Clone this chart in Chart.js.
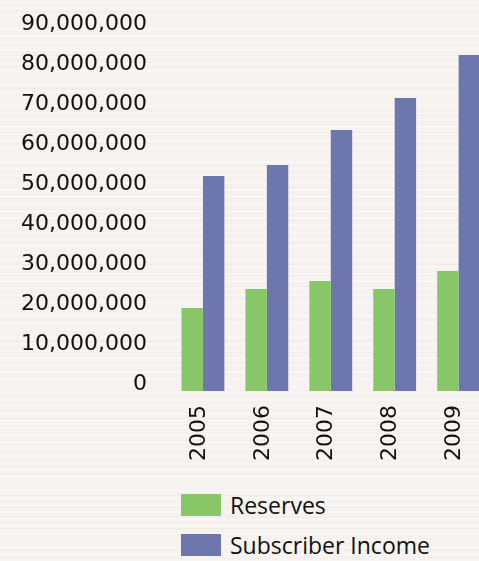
<!DOCTYPE html>
<html>
<head>
<meta charset="utf-8">
<script src="https://cdn.jsdelivr.net/npm/chart.js@4"></script>
<style>
  html, body { margin: 0; padding: 0; }
  body {
    width: 479px; height: 561px; overflow: hidden; position: relative;
    background-color: #f6f2ef;
    background-image:
      repeating-linear-gradient(180deg, rgba(255,255,255,0.35) 0px, rgba(255,255,255,0.35) 2px, rgba(0,0,0,0) 2px, rgba(0,0,0,0) 7px),
      repeating-linear-gradient(180deg, rgba(225,218,212,0.25) 0px, rgba(225,218,212,0.25) 1px, rgba(0,0,0,0) 1px, rgba(0,0,0,0) 11px);
  }
  #wrap { position: absolute; left: 0; top: 0; width: 499px; height: 470px; }
  #legend { position: absolute; left: 181px; top: 494px; font-family: "Open Sans", sans-serif; font-size: 23px; color: #111; }
  .item { display: flex; align-items: center; height: 22px; margin-bottom: 18px; }
  .box { width: 40px; height: 22px; margin-right: 9px; }
</style>
</head>
<body>
<div id="wrap"><canvas id="chart" width="499" height="470"></canvas></div>
<div id="legend"></div>
<script>
const years = ['2005', '2006', '2007', '2008', '2009'];
const reserves = [20750000, 25500000, 27500000, 25500000, 30000000];
const subscriberIncome = [53750000, 56500000, 65250000, 73250000, 84000000];
const yMax = 90000000;
const yStep = 10000000;

const green = '#88c668';
const blue = '#6e77ad';

const chart = new Chart(document.getElementById('chart').getContext('2d'), {
    type: 'bar',
    data: {
        labels: years,
        datasets: [
            { label: 'Reserves', data: reserves, backgroundColor: green },
            { label: 'Subscriber Income', data: subscriberIncome, backgroundColor: blue }
        ]
    },
    options: {
        responsive: false,
        animation: false,
        devicePixelRatio: 1,
        categoryPercentage: 0.67,
        barPercentage: 1.0,
        layout: { padding: { top: 31, left: 0, right: 0, bottom: 0 } },
        plugins: {
            legend: { display: false },
            tooltip: { enabled: false }
        },
        scales: {
            x: {
                grid: { display: false, drawTicks: false },
                border: { display: false },
                ticks: {
                    minRotation: 90,
                    maxRotation: 90,
                    padding: 14,
                    labelOffset: -4,
                    color: '#111',
                    font: { family: 'DejaVu Sans', size: 22 }
                },
                afterFit: s => { s.height = 79; }
            },
            y: {
                min: 0,
                max: yMax,
                grid: { display: false, drawTicks: false },
                border: { display: false },
                ticks: {
                    stepSize: yStep,
                    padding: 24,
                    labelOffset: -7,
                    color: '#111',
                    font: { family: 'DejaVu Sans', size: 22 },
                    callback: v => v.toLocaleString('en-US')
                },
                // tick padding would otherwise push the plot top down
                afterFit: s => { s.width = 171; s.paddingTop = 0; s.paddingBottom = 0; }
            }
        }
    }
});

// legend built from the chart's datasets
const legend = document.getElementById('legend');
chart.data.datasets.forEach(ds => {
    const row = document.createElement('div');
    row.className = 'item';
    const box = document.createElement('span');
    box.className = 'box';
    box.style.background = ds.backgroundColor;
    const txt = document.createElement('span');
    txt.textContent = ds.label;
    row.appendChild(box);
    row.appendChild(txt);
    legend.appendChild(row);
});
</script>
</body>
</html>
